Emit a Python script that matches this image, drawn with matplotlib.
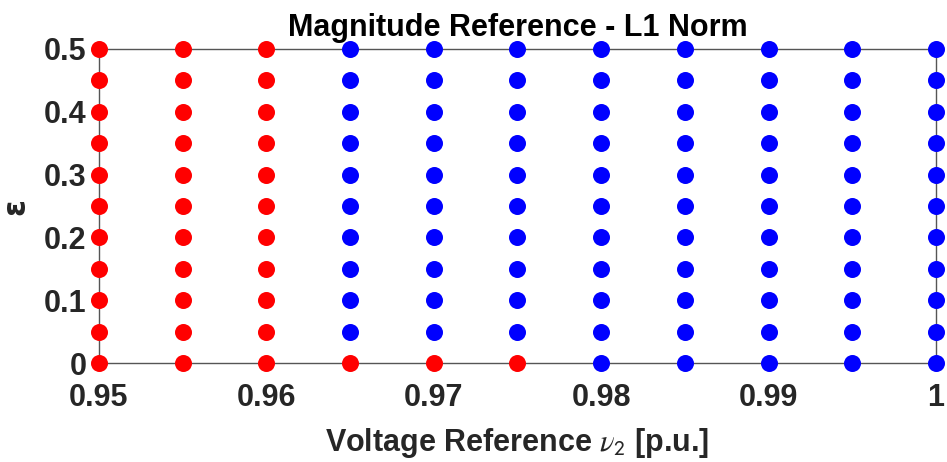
import matplotlib
matplotlib.use("Agg")
import matplotlib.pyplot as plt

plt.rcParams['font.family'] = ['Liberation Sans', 'DejaVu Sans']
plt.rcParams['mathtext.fontset'] = 'stix'

# Voltage reference sweep (p.u.) and epsilon sweep
voltage = [0.95, 0.955, 0.96, 0.965, 0.97, 0.975, 0.98, 0.985, 0.99, 0.995, 1.0]
epsilon = [0.0, 0.05, 0.10, 0.15, 0.20, 0.25, 0.30, 0.35, 0.40, 0.45, 0.50]

# Outcome per (epsilon row, voltage column): 1 = red, 0 = blue
outcome = [
    [1, 1, 1, 1, 1, 1, 0, 0, 0, 0, 0],  # eps = 0.00
    [1, 1, 1, 0, 0, 0, 0, 0, 0, 0, 0],  # eps = 0.05
    [1, 1, 1, 0, 0, 0, 0, 0, 0, 0, 0],  # eps = 0.10
    [1, 1, 1, 0, 0, 0, 0, 0, 0, 0, 0],  # eps = 0.15
    [1, 1, 1, 0, 0, 0, 0, 0, 0, 0, 0],  # eps = 0.20
    [1, 1, 1, 0, 0, 0, 0, 0, 0, 0, 0],  # eps = 0.25
    [1, 1, 1, 0, 0, 0, 0, 0, 0, 0, 0],  # eps = 0.30
    [1, 1, 1, 0, 0, 0, 0, 0, 0, 0, 0],  # eps = 0.35
    [1, 1, 1, 0, 0, 0, 0, 0, 0, 0, 0],  # eps = 0.40
    [1, 1, 1, 0, 0, 0, 0, 0, 0, 0, 0],  # eps = 0.45
    [1, 1, 1, 0, 0, 0, 0, 0, 0, 0, 0],  # eps = 0.50
]

xticks = [0.95, 0.96, 0.97, 0.98, 0.99, 1.0]
xtick_labels = ['0.95', '0.96', '0.97', '0.98', '0.99', '1']
yticks = [0, 0.1, 0.2, 0.3, 0.4, 0.5]
ytick_labels = ['0', '0.1', '0.2', '0.3', '0.4', '0.5']

fig = plt.figure(figsize=(9.47, 4.62), dpi=100)
ax = fig.add_axes([0.1045, 0.214, 0.8839, 0.680])

for i, eps in enumerate(epsilon):
    for j, v in enumerate(voltage):
        color = (1, 0, 0) if outcome[i][j] else (0, 0, 1)
        ax.scatter(v, eps, s=150, color=color, linewidths=0, zorder=3, clip_on=False)

ax.set_xlim(0.95, 1.0)
ax.set_ylim(0, 0.5)
ax.set_xticks(xticks)
ax.set_xticklabels(xtick_labels)
ax.set_yticks(yticks)
ax.set_yticklabels(ytick_labels)

for sp in ax.spines.values():
    sp.set_color('#555555')
    sp.set_linewidth(1.0)
ax.tick_params(direction='in', length=0, labelsize=22, colors='#262626')
ax.tick_params(axis='x', pad=14)
ax.tick_params(axis='y', pad=9)
for lbl in ax.get_xticklabels() + ax.get_yticklabels():
    lbl.set_fontweight('bold')

ax.set_title('Magnitude Reference - L1 Norm', fontsize=22, fontweight='bold', pad=9)
ax.set_xlabel(r'Voltage Reference $\nu_{\mathsf{2}}$ [p.u.]',
              fontsize=22, fontweight='bold', color='#262626', labelpad=10)
ax.set_ylabel('ε', fontsize=22, fontweight='bold', color='#262626', labelpad=10,
              family=['DejaVu Sans'])

fig.savefig('out.png', dpi=100)
